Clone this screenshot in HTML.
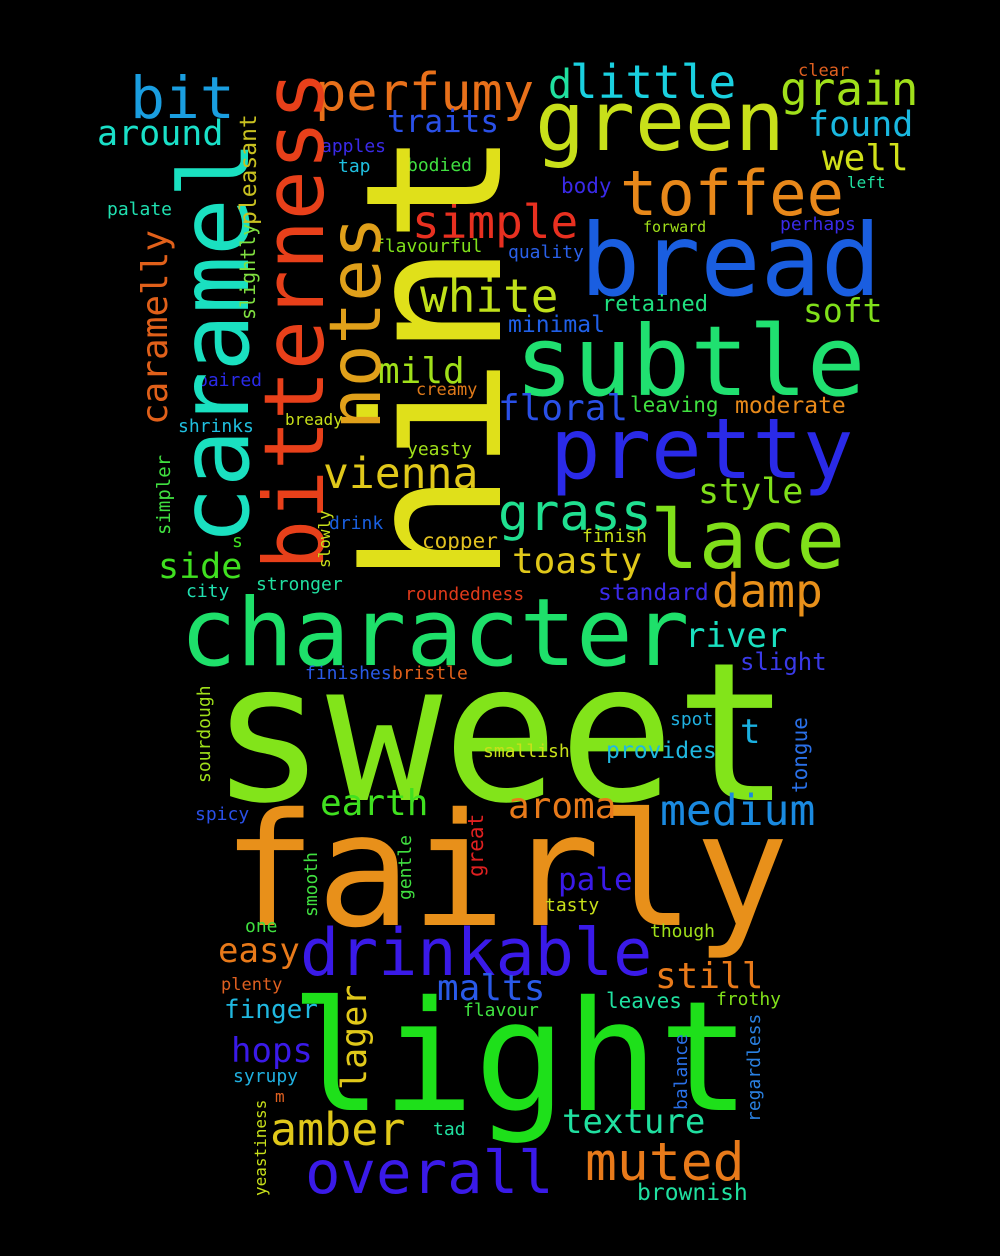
<!DOCTYPE html>
<html><head><meta charset="utf-8"><title>Word cloud</title>
<style>
html,body{margin:0;padding:0;background:#000;}
svg{display:block;}
text{font-family:"DejaVu Sans Mono","Liberation Mono",monospace;}
</style></head>
<body>
<svg id="cloud" width="1000" height="1256" viewBox="0 0 1000 1256" xmlns="http://www.w3.org/2000/svg">
<rect width="1000" height="1256" fill="#000"/>
</svg>
<script>
// words, font sizes (importance), colors, orientation; layout positions separate
const words=["sweet","fairly","light","character","subtle","pretty","bread","green","lace","drinkable","overall","muted","toffee","perfumy","bit","little","grain","d","found","well","traits","around","simple","white","soft","retained","minimal","mild","floral","leaving","moderate","vienna","grass","style","toasty","side","damp","copper","finish","standard","roundedness","stronger","city","river","slight","finishes","bristle","spot","t","smallish","provides","earth","aroma","medium","spicy","pale","one","tasty","though","easy","still","malts","plenty","leaves","frothy","flavour","finger","hops","syrupy","m","tad","amber","texture","brownish","clear","apples","tap","bodied","body","left","palate","forward","perhaps","flavourful","quality","paired","creamy","bready","shrinks","yeasty","drink","s",
"hint","caramel","bitterness","notes","caramelly","slightly","pleasant","simpler","slowly","sourdough","tongue","great","gentle","smooth","lager","balance","regardless","yeastiness"];
const sizes=[193,157,153,94,97,84,100,83,81,65,59,53,62,52,58,46,46,40,35,36,31,35,46,46,33,22,23,36,36,21,23,43,51,35,36,35,46,21,18,23,18,18,18,34,24,18,18,18,34,18,23,36,36,43,18,31,18,18,18,34,36,36,17,21,18,18,26,34,18,16,18,45,34,23,17,18,18,18,21,16,18,15,18,18,18,18,17,16,18,18,18,18,
189,96,83,71,36,20,23,19,16,18,21,21,18,18,35,18,18,16];
const colors=["#82e41a","#e8901a","#1ee01a","#1ee06a","#20e070","#2a2ae8","#1a5ee0","#c8e01a","#80e01a","#3a1ae8","#3a1ae8","#e87a1a","#e8881a","#e8701a","#1a9ee0","#1ad0e0","#a0e01a","#20e0a0","#1ab8e0","#d0e01a","#2a50e8","#1ae0c8","#e83020","#c0e01a","#80e01a","#20e080","#2060e8","#a0e01a","#2a50e8","#40e040","#e88a1a","#e0c81a","#20e090","#80e01a","#e0c81a","#40e020","#e8901a","#e0c020","#c8e01a","#3a2ae8","#e03a1a","#20e0a0","#20e0b0","#1ae0c0","#3a3ae8","#2a5ae8","#e0601a","#20b0e0","#1ab0e0","#c8e01a","#20b8e0","#40e020","#e87a1a","#1a8ae0","#2a50e8","#3a1ae8","#40e040","#c8e01a","#a0e01a","#e87a1a","#e87a1a","#2a5ae8","#e06020","#20e0a0","#80e01a","#40e040","#20b8e0","#3a1ae8","#20b0e0","#e06020","#20e0a0","#e0c81a","#20e0a0","#20e0a0","#e06020","#3a2ae8","#20c0e0","#40e040","#3a2ae8","#20e0a0","#20e0b0","#a0e01a","#3a2ae8","#80e01a","#2a60e8","#2a2ae8","#e07a1a","#c8e01a","#20c0e0","#a0e01a","#1a60e0","#40e020",
"#e0e01a","#1ae0c0","#e8401a","#e0a01a","#e0601a","#80e040","#c8c020","#40e040","#c8e01a","#a0e01a","#2a70e8","#e02020","#40e040","#40e040","#e0c81a","#2a70e8","#2a80e0","#c8e01a"];
const vertical=words.map((w,i)=>i>=92);
// layout: x = left (or baseline x for vertical), y = baseline (or start y for vertical)
const layoutX=[210,222,290,180,515,550,580,535,650,300,305,585,620,315,130,570,780,548,808,822,387,97,412,420,803,602,508,378,498,630,735,323,498,698,512,158,712,422,582,598,405,256,186,685,740,305,392,670,740,483,606,320,508,660,195,558,245,545,650,218,655,437,221,606,716,463,224,231,233,275,433,270,562,637,798,321,338,407,561,847,107,643,780,374,508,197,416,285,178,407,329,232,
500,248,323,380,167,255,256,170,330,210,807,483,411,317,366,687,760,266];
const layoutY=[800,925,1110,665,395,478,295,150,568,975,1193,1180,215,110,118,98,105,98,136,170,132,145,238,312,322,311,332,383,420,412,413,488,530,503,573,578,607,548,542,600,600,590,597,647,670,679,679,725,743,757,758,815,818,825,820,890,932,911,937,962,988,1000,990,1008,1005,1016,1018,1062,1082,1102,1135,1145,1133,1200,76,152,172,171,193,188,215,232,230,252,258,386,395,425,432,455,529,547,
585,545,570,430,425,320,225,535,568,783,793,877,900,917,1090,1110,1122,1196];
const svg=document.getElementById('cloud');
const NS='http://www.w3.org/2000/svg';
words.forEach((w,i)=>{
  const t=document.createElementNS(NS,'text');
  t.setAttribute('x',layoutX[i]);
  t.setAttribute('y',layoutY[i]);
  t.setAttribute('font-size',sizes[i]);
  t.setAttribute('fill',colors[i]);
  if(vertical[i]) t.setAttribute('transform','rotate(-90 '+layoutX[i]+' '+layoutY[i]+')');
  t.textContent=w;
  
  
  svg.appendChild(t);
});
</script>
</body></html>
